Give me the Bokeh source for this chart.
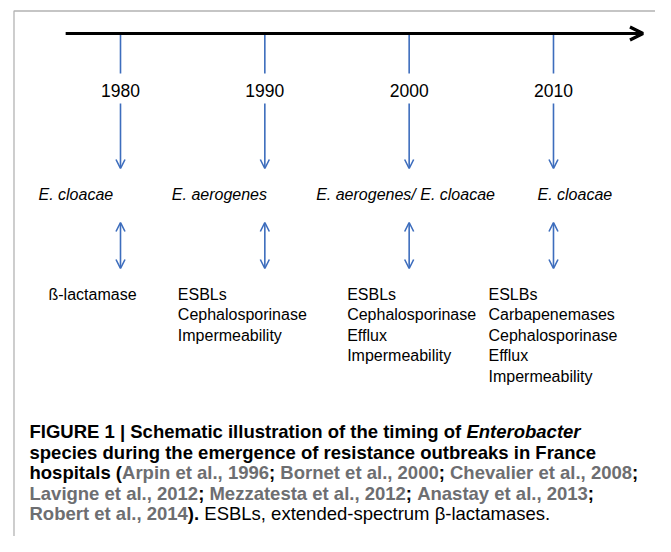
from bokeh.plotting import figure
from bokeh.models import ColumnDataSource, Range1d, Arrow, OpenHead, BoxAnnotation
from bokeh.core.properties import value
from bokeh.embed import file_html
from bokeh.resources import INLINE

# ---------------- data ----------------
years = [1980, 1990, 2000, 2010]
year_labels = ["1980", "1990", "2000", "2010"]
species = ["E. cloacae", "E. aerogenes", "E. aerogenes/ E. cloacae", "E. cloacae"]
mechanisms = [
    ["ß-lactamase"],
    ["ESBLs", "Cephalosporinase", "Impermeability"],
    ["ESBLs", "Cephalosporinase", "Efflux", "Impermeability"],
    ["ESLBs", "Carbapenemases", "Cephalosporinase", "Efflux", "Impermeability"],
]
timeline_start = 1976.2
timeline_end = 2016.2

# caption: (text, style) b=bold, bi=bold italic, g=grey bold reference, r=regular
caption = [
    [("FIGURE 1 | Schematic illustration of the timing of ", "b"), ("Enterobacter", "bi")],
    [("species during the emergence of resistance outbreaks in France", "b")],
    [("hospitals (", "b"), ("Arpin et al., 1996", "g"), ("; ", "b"),
     ("Bornet et al., 2000", "g"), ("; ", "b"), ("Chevalier et al., 2008", "g"), (";", "b")],
    [("Lavigne et al., 2012", "g"), ("; ", "b"), ("Mezzatesta et al., 2012", "g"), ("; ", "b"),
     ("Anastay et al., 2013", "g"), (";", "b")],
    [("Robert et al., 2014", "g"), ("). ", "b"), ("ESBLs, extended-spectrum β-lactamases.", "r")],
]

# ---------------- layout / style ----------------
BLUE = "#3d6dbd"
GREY = "#6d6e71"
FONT = "Liberation Sans"
W, H = 655, 536
PPY = 14.433  # pixels per year
X0 = 1980 - 120 / PPY
X1 = X0 + W / PPY

def px2x(px):
    return X0 + px / PPY

species_dx = [-82, -93, -93, -16]
mech_dx = [-72, -87, -62, -65]

p = figure(width=W, height=H, x_range=Range1d(X0, X1), y_range=Range1d(H, 0),
           output_backend="svg", toolbar_location=None, min_border=0,
           x_axis_location=None, y_axis_location=None, background_fill_color="white",
           border_fill_color="white")
p.grid.visible = False
p.outline_line_color = None

# frame border (only top and left edges fall inside the picture)
p.add_layout(BoxAnnotation(left=px2x(13.5), right=px2x(2000), top=10.5, bottom=2000,
                           fill_alpha=0, line_color="black", line_width=1.3))

# timeline
p.add_layout(Arrow(x_start=timeline_start, y_start=33, x_end=timeline_end, y_end=33,
                   line_width=3.2, line_color="black",
                   end=OpenHead(size=13, line_width=3.2, line_color="black")))

src = ColumnDataSource(dict(
    x=years, year=year_labels, sp=species, sdx=species_dx,
    mech=["\n".join(m) for m in mechanisms], mdx=mech_dx,
))

p.segment(x0="x", y0=33, x1="x", y1=73, source=src, line_color=BLUE, line_width=1.6)
p.add_layout(Arrow(source=src, x_start="x", y_start=103, x_end="x", y_end=168,
                   line_color=BLUE, line_width=1.6,
                   end=OpenHead(size=9, line_color=BLUE, line_width=1.6)))
p.add_layout(Arrow(source=src, x_start="x", y_start=222, x_end="x", y_end=268,
                   line_color=BLUE, line_width=1.6,
                   start=OpenHead(size=9, line_color=BLUE, line_width=1.6),
                   end=OpenHead(size=9, line_color=BLUE, line_width=1.6)))

p.text(x="x", y=90, text="year", source=src, text_align="center", text_baseline="middle",
       text_font=value(FONT), text_font_size="17.5px", text_color="black")
p.text(x="x", y=194, text="sp", x_offset="sdx", source=src, text_align="left",
       text_baseline="middle", text_font=value(FONT), text_font_size="16px",
       text_font_style="italic", text_color="black")
p.text(x="x", y=285.5, text="mech", x_offset="mdx", source=src, text_align="left",
       text_baseline="top", text_font=value(FONT), text_font_size="16px",
       text_line_height=1.2, text_color="black")

# caption, segments placed using Arial/Liberation Sans Bold advance widths
BOLD_W = {" ": 278, "(": 333, ")": 333, ",": 278, ".": 278, ";": 333, "|": 280, "-": 333,
          "A": 722, "B": 722, "C": 722, "D": 722, "E": 667, "F": 611, "G": 778, "H": 722,
          "I": 278, "L": 611, "M": 833, "P": 667, "R": 722, "S": 667, "T": 611, "U": 722,
          "a": 556, "b": 611, "c": 556, "d": 611, "e": 556, "f": 333, "g": 611, "h": 611,
          "i": 278, "k": 556, "l": 278, "m": 889, "n": 611, "o": 611, "p": 611, "r": 389,
          "s": 556, "t": 333, "u": 611, "v": 556, "y": 556, "z": 500}
CAP_SIZE = 18.5
CAP_LEFT = 29
CAP_TOP = 431
CAP_STEP = 20.6

def width(t):
    return sum(BOLD_W.get(ch, 556) for ch in t) / 1000 * CAP_SIZE

ct, cx, cy, cdx, ccol, cstyle = [], [], [], [], [], []
for i, line in enumerate(caption):
    off = 0.0
    for t, st in line:
        ct.append(t.strip() if t.strip() else t)
        cx.append(px2x(CAP_LEFT))
        cy.append(CAP_TOP + i * CAP_STEP)
        cdx.append(off)
        ccol.append(GREY if st == "g" else "black")
        cstyle.append({"b": "bold", "bi": "bold italic", "g": "bold", "r": "normal"}[st])
        off += width(t)

csrc = ColumnDataSource(dict(text=ct, x=cx, y=cy, dx=cdx, color=ccol, style=cstyle))
p.text(x="x", y="y", text="text", x_offset="dx", source=csrc, text_align="left",
       text_baseline="middle", text_font=value(FONT), text_font_size=f"{CAP_SIZE}px",
       text_color="color", text_font_style="style")

open("out.html", "w").write(file_html(p, INLINE))
